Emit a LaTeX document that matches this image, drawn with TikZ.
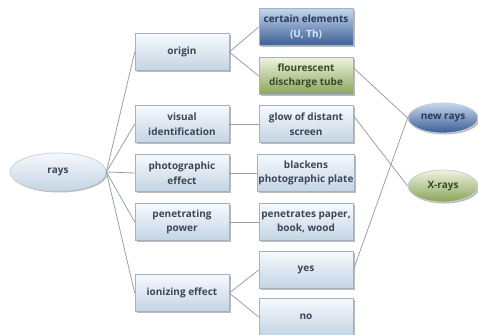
\documentclass[tikz,border=0pt]{standalone}
\usepackage{fontspec}
\setmainfont{Open Sans}
\usetikzlibrary{shapes.geometric,shadows}
\definecolor{txt}{HTML}{3C4654}
\definecolor{navy}{HTML}{263A5C}
\definecolor{lighttxt}{HTML}{DCE6F2}
\definecolor{greentxt}{HTML}{3A4828}
\definecolor{boxtop}{HTML}{F6F9FC}
\definecolor{boxbot}{HTML}{C4D5E4}
\definecolor{boxline}{HTML}{A4B2C0}
\definecolor{bluetop}{HTML}{C6D7EC}
\definecolor{bluebot}{HTML}{3A5E96}
\definecolor{greentop}{HTML}{EEF3E0}
\definecolor{greenbot}{HTML}{88A458}
\definecolor{conn}{HTML}{9AA0A8}
\begin{document}
\begin{tikzpicture}[x=1pt,y=-1pt,
  every node/.style={font=\bfseries\fontsize{10}{14.5}\selectfont, text=txt, align=center},
  shad/.style={drop shadow={shadow xshift=1.5pt,shadow yshift=-1.5pt,opacity=0.45,fill=black!60}},
  cbox/.style={rectangle, draw=boxline, line width=0.6pt, top color=boxtop, bottom color=boxbot,
     minimum width=94pt, minimum height=37pt, inner sep=1pt, shad},
  bluebox/.style={cbox, top color=bluetop, bottom color=bluebot, text=navy},
  greenbox/.style={cbox, top color=greentop, bottom color=greenbot, text=greentxt},
  oval/.style={ellipse, draw=boxline!60!white, line width=0.8pt, minimum width=70pt, minimum height=30pt, inner sep=0pt, shad},
  link/.style={draw=conn, line width=0.8pt}
]
\useasboundingbox (0,0) rectangle (478,334);
% central
\node[oval, minimum width=96pt, minimum height=38pt, top color=boxtop, bottom color=boxbot] (rays) at (58,172) {rays};
% left column
\node[cbox] (origin) at (182,52) {origin};
\node[cbox] (visual) at (182,124) {visual\\identification};
\node[cbox] (photo) at (182,173) {photographic\\effect};
\node[cbox] (pen) at (182,222) {penetrating\\power};
\node[cbox] (ion) at (182,293) {ionizing effect};
% right column
\node[bluebox] (cert) at (306,27) {certain elements\\\textcolor{lighttxt}{(U, Th)}};
\node[greenbox] (flour) at (306,76) {flourescent\\discharge tube};
\node[cbox] (glow) at (306,124) {glow of distant\\screen};
\node[cbox] (black) at (306,173) {blackens\\photographic plate};
\node[cbox] (pens) at (306,222) {penetrates paper,\\book, wood};
\node[cbox] (yes) at (306,270) {yes};
\node[cbox] (no) at (306,317) {no};
% result ovals
\node[oval, top color=bluetop, bottom color=bluebot, text=navy] (newr) at (443,118) {new rays};
\node[oval, minimum height=32pt, top color=greentop, bottom color=greenbot, text=greentxt] (xr) at (443,186) {X-rays};
% connectors
\foreach \t in {origin,visual,photo,pen,ion} \path[link] (rays.east) -- (\t.west);
\path[link] (origin.east) -- (cert.west);
\path[link] (origin.east) -- (flour.west);
\path[link] (visual.east) -- (glow.west);
\path[link] (photo.east) -- (black.west);
\path[link] (pen.east) -- (pens.west);
\path[link] (ion.east) -- (yes.west);
\path[link] (ion.east) -- (no.west);
\path[link] (flour.10) -- (newr.west);
\path[link] (glow.10) -- (xr.west);
\path[link] (yes.east) -- (newr.west);
\end{tikzpicture}
\end{document}
